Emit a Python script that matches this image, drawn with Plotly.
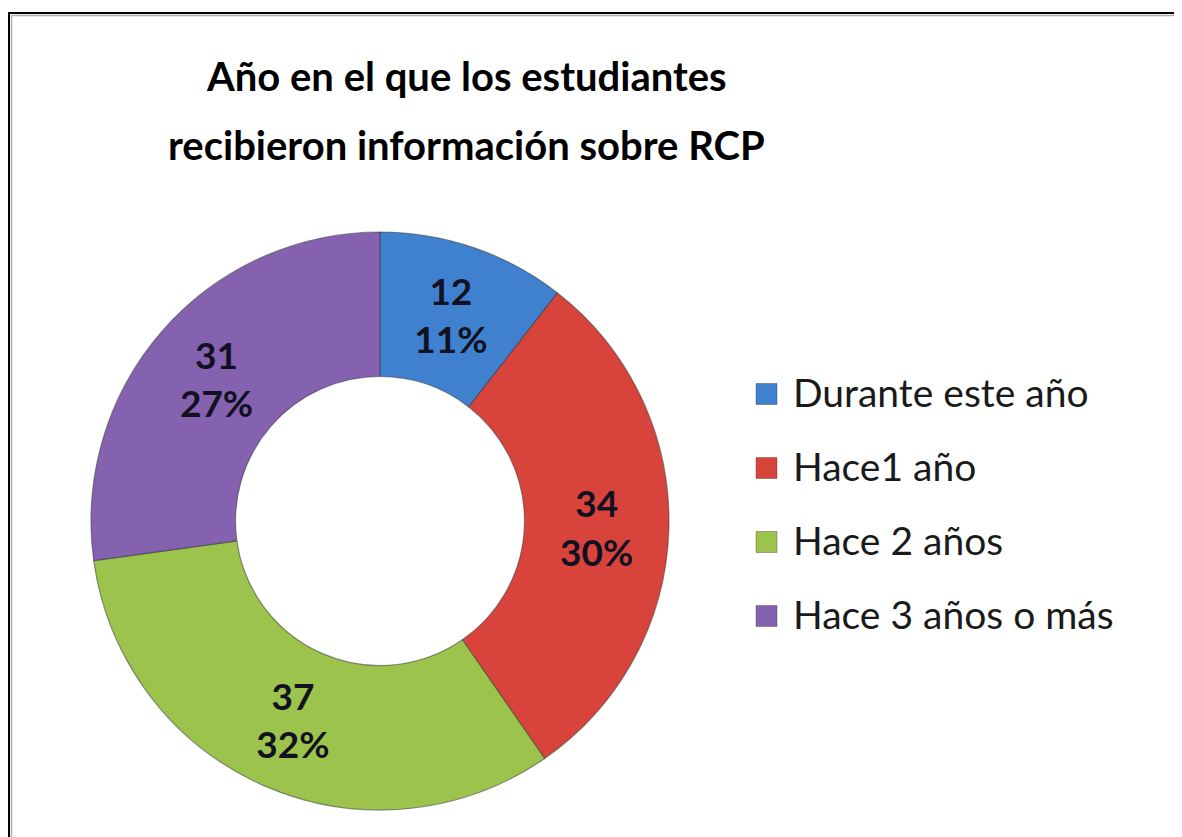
import plotly.graph_objects as go

# data
labels = ['Durante este año', 'Hace1 año', 'Hace 2 años', 'Hace 3 años o más']
values = [12, 34, 37, 31]
colors = ['#3F80CF', '#D8443C', '#9CC44C', '#8562AF']
title_lines = ['Año en el que los estudiantes', 'recibieron información sobre RCP']

W, H = 1182, 837
OFFSET = 8  # the page body adds an 8px margin around the plot
font_family = 'Lato, Open Sans, sans-serif'
text_color = '#111122'


def px_x(x):
    return (x - OFFSET) / W


def px_y(y):
    return 1 - (y - OFFSET) / H


fig = go.Figure()
fig.add_trace(go.Pie(
    labels=labels,
    values=values,
    hole=0.5,
    sort=False,
    direction='clockwise',
    rotation=0,
    marker=dict(colors=colors, line=dict(color='rgba(60,60,60,0.55)', width=1.2)),
    texttemplate='%{value}<br>%{percent:.0%}',
    textposition='inside',
    insidetextorientation='horizontal',
    textfont=dict(family=font_family, size=37, color=text_color, weight=700),
    domain=dict(x=[px_x(91), px_x(669)], y=[px_y(810), px_y(232)]),
    showlegend=False,
    hoverinfo='label+value+percent',
))

annotations = []
for i, line in enumerate(title_lines):
    annotations.append(dict(
        text=line, x=px_x(466), y=px_y(76 + i * 69), xref='paper', yref='paper',
        xanchor='center', yanchor='middle', showarrow=False,
        font=dict(family=font_family, size=40, color='#000000', weight=700),
    ))

# legend drawn next to the donut, one row per category
shapes = []
row_top = 394
row_step = 74
for i, (label, color) in enumerate(zip(labels, colors)):
    cy = row_top + i * row_step
    shapes.append(dict(
        type='rect', xref='paper', yref='paper',
        x0=px_x(756), x1=px_x(777), y0=px_y(cy + 10.5), y1=px_y(cy - 10.5),
        fillcolor=color, line=dict(color='rgba(40,40,40,0.35)', width=1),
    ))
    annotations.append(dict(
        text=label, x=px_x(791), y=px_y(cy - 2), xref='paper', yref='paper',
        xanchor='left', yanchor='middle', showarrow=False,
        font=dict(family=font_family, size=39, color='#1a1a1a'),
    ))

# chart area frame (only top and left edges are visible in the picture)
shapes.append(dict(type='rect', xref='paper', yref='paper',
                   x0=px_x(9), x1=1.02, y0=-0.02, y1=px_y(13),
                   line=dict(color='#000000', width=2)))
shapes.append(dict(type='rect', xref='paper', yref='paper',
                   x0=px_x(11.5), x1=1.02, y0=-0.02, y1=px_y(15.5),
                   line=dict(color='#b0b0b0', width=1.5)))

fig.update_layout(
    width=W,
    height=H,
    margin=dict(l=0, r=0, t=0, b=0),
    paper_bgcolor='white',
    plot_bgcolor='white',
    annotations=annotations,
    shapes=shapes,
    uniformtext=dict(minsize=37, mode='show'),
)

fig.write_html('out.html')
